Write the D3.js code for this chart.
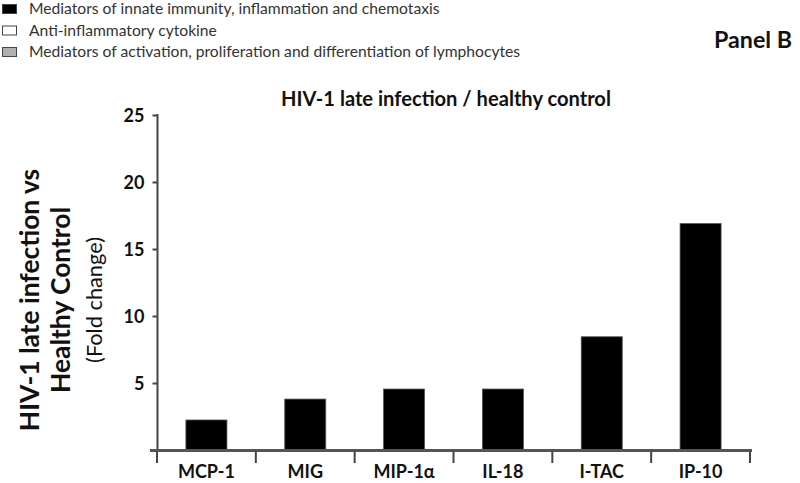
<!DOCTYPE html>
<html><head><meta charset="utf-8">
<script src="https://cdn.jsdelivr.net/npm/d3@7"></script>
<style>body{margin:0;background:#fff}svg{display:block}text{font-family:Lato,"Open Sans","Liberation Sans",sans-serif}</style>
</head><body>
<svg id="c" width="800" height="483"></svg>
<script>
const categories = ["MCP-1","MIG","MIP-1\u03b1","IL-18","I-TAC","IP-10"];
const values = [2.24, 3.8, 4.55, 4.55, 8.45, 16.9];
const yTicks = [5,10,15,20,25];
const legendLabels = ["Mediators of innate immunity, inflammation and chemotaxis","Anti-inflammatory cytokine","Mediators of activation, proliferation and differentiation of lymphocytes"];
const legendColors = ["#000","#fff","#b0b0b0"];

const svg = d3.select("#c");
const xb = d3.scaleBand().domain(categories).range([157,750]);
const y = d3.scaleLinear().domain([0,25]).range([450,115]);
const axisColor = "#444";
const barW = xb.bandwidth()*0.415;

function fit(sel, target){ const w = sel.node().getComputedTextLength(); const fs = parseFloat(sel.attr("font-size")); sel.attr("font-size", fs*target/w); return fs*target/w; }

// bars
svg.append("g").selectAll("rect").data(values).join("rect")
  .attr("x",(d,i)=>xb(categories[i]) + xb.bandwidth()/2 - barW/2)
  .attr("width",barW)
  .attr("y",d=>y(d)).attr("height",d=>y(0)-y(d)).attr("fill","#000")
  .attr("stroke","#555").attr("stroke-width",0.8);

// y axis
const ya = svg.append("g").attr("transform","translate(157.5,0)")
  .call(d3.axisLeft(y).tickValues(yTicks).tickSize(5).tickPadding(8).tickSizeOuter(0));
ya.select(".domain").attr("stroke",axisColor).attr("stroke-width",2).attr("d","M0,452V114");
ya.selectAll(".tick line").attr("stroke",axisColor).attr("stroke-width",2);
ya.selectAll("text").attr("font-size",18).attr("font-weight","bold").attr("fill","#111").attr("dy","0.36em");

// x axis
const xa = svg.append("g").attr("transform","translate(0,450.5)")
  .call(d3.axisBottom(xb).tickValues([]).tickSizeOuter(0));
xa.select(".domain").attr("stroke","#555").attr("stroke-width",3).attr("d","M150,0H752");
const bounds = categories.map(c=>xb(c)).concat([xb(categories[categories.length-1])+xb.bandwidth()]);
svg.append("g").selectAll("line").data(bounds).join("line")
  .attr("x1",d=>d).attr("x2",d=>d).attr("y1",451).attr("y2",463)
  .attr("stroke",axisColor).attr("stroke-width",2);
svg.append("g").selectAll("text").data(categories).join("text")
  .attr("x",d=>xb(d)+xb.bandwidth()/2).attr("y",478)
  .attr("text-anchor","middle").attr("font-size",18).attr("font-weight","bold").attr("fill","#111")
  .text(d=>d);

// title
const t = svg.append("text").attr("x",446).attr("y",106).attr("text-anchor","middle")
  .attr("font-size",17).attr("font-weight","bold").attr("fill","#111")
  .text("HIV-1 late infection / healthy control");
fit(t, 330);

// y label
const yl = svg.append("g").attr("transform","translate(0,300) rotate(-90)");
const l2 = yl.append("text").attr("x",0).attr("y",70).attr("text-anchor","middle").attr("font-size",24).attr("font-weight","bold").attr("fill","#111").text("Healthy Control");
const fs2 = fit(l2, 186);
yl.append("text").attr("x",0).attr("y",39).attr("text-anchor","middle").attr("font-size",fs2).attr("font-weight","bold").attr("fill","#111").text("HIV-1 late infection vs");
const l3 = yl.append("text").attr("x",0).attr("y",102).attr("text-anchor","middle").attr("font-size",16).attr("fill","#111").text("(Fold change)");
fit(l3, 126);

// Panel B
const pb = svg.append("text").attr("x",792).attr("y",48).attr("text-anchor","end").attr("font-size",21).attr("font-weight","bold").attr("fill","#111").text("Panel B");
fit(pb, 78);

// legend
const lg = svg.append("g");
lg.selectAll("rect").data(legendColors).join("rect")
  .attr("x",2.5).attr("y",(d,i)=>4.5+i*21.5).attr("width",14).attr("height",9)
  .attr("fill",d=>d).attr("stroke","#444").attr("stroke-width",1);
const lt = lg.selectAll("text").data(legendLabels).join("text")
  .attr("x",29).attr("y",(d,i)=>14+i*21.5).attr("font-size",14).attr("fill","#333").text(d=>d);
const sc = 411 / lt.nodes()[0].getComputedTextLength();
lt.attr("font-size", 14*sc);
</script>
</body></html>
